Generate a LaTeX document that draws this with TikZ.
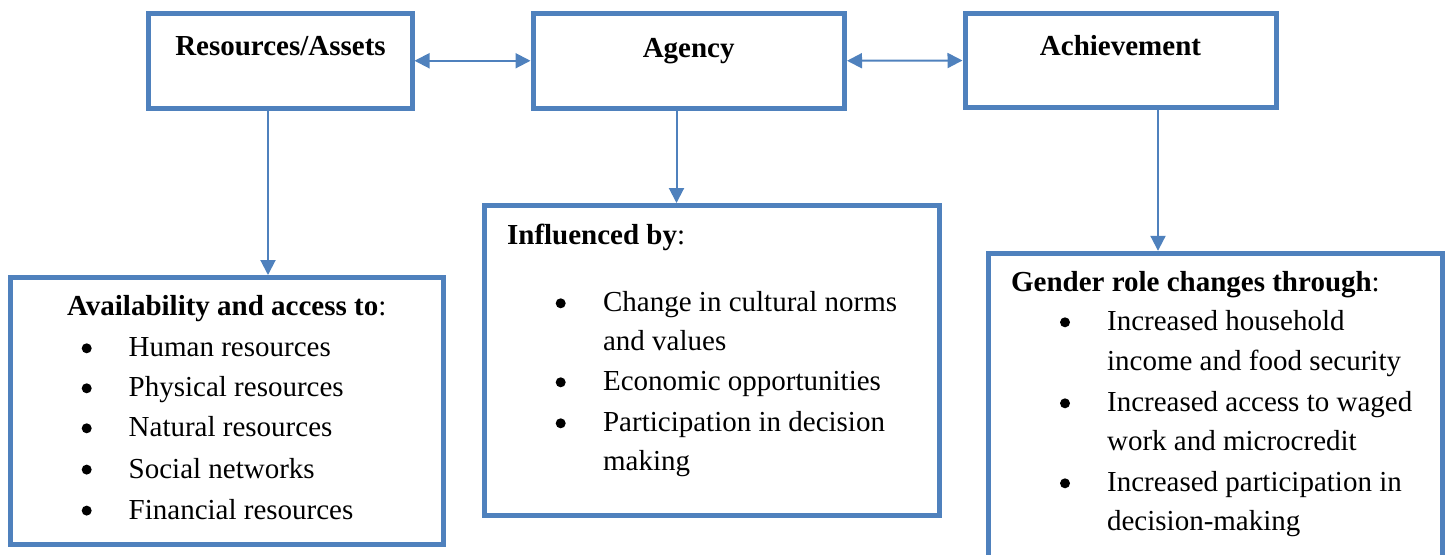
\documentclass[tikz,border=0pt]{standalone}
\usepackage{fontspec}
\setmainfont{Liberation Serif}
\usetikzlibrary{arrows.meta}

\definecolor{boxblue}{RGB}{79,129,189}

\tikzset{
	box/.style={draw=boxblue, line width=2.5pt, inner sep=0pt},
	link/.style={draw=boxblue, line width=1pt},
	head/.style={font=\fontsize{14.5}{19.4}\selectfont\bfseries, anchor=base, inner sep=0pt},
	entry/.style={anchor=base west, inner sep=0pt},
	dot/.style={circle, fill=black, inner sep=0pt, minimum size=5pt, yshift=4.2pt},
}

\begin{document}
\begin{tikzpicture}[x=0.5pt, y=-0.5pt, >={Triangle[length=7.5pt,width=7.5pt]},
		font=\fontsize{14.5}{19.4}\selectfont]
		\useasboundingbox (0,0) rectangle (1452,554);

		% top row
		\node [box, minimum width=131.75pt, minimum height=47.25pt] (res) at (280.25, 60.75) {};
		\node [box, minimum width=155.75pt, minimum height=47.75pt] (agency) at (688.75, 60.75) {};
		\node [box, minimum width=155.5pt, minimum height=47pt] (achieve) at (1120.5, 60.5) {};

		\node [head] (res-t) at (280.5, 55) {Resources/Assets};
		\node [head] (agency-t) at (688.7, 57) {Agency};
		\node [head] (achieve-t) at (1120.5, 55) {Achievement};

		% bottom row
		\node [box, minimum width=216.75pt, minimum height=133.5pt] (avail) at (226.75, 411) {};
		\node [box, minimum width=227.5pt, minimum height=155pt] (infl) at (712, 360.5) {};
		\node [box, minimum width=227.1pt, minimum height=163.35pt] (gender) at (1215.4, 416.65) {};

		% links between the boxes
		\draw [link, <->] (res.east) -- (agency.west);
		\draw [link, <->] (agency.east) -- (achieve.west);

		\coordinate (x1) at (268, 0);
		\coordinate (x2) at (676.5, 0);
		\coordinate (x3) at (1158, 0);
		\draw [link, ->] (res.south -| x1) -- (avail.north -| x1);
		\draw [link, ->] (agency.south -| x2) -- (infl.north -| x2);
		\draw [link, ->] (achieve.south -| x3) -- (gender.north -| x3);

		% resources list
		\node [head] (avail-t) at (226.75, 315) {Availability and access to\textmd{:}};
		\node [dot] (avail-b1) at (86.7, 356.7) {};
		\node [dot] (avail-b2) at (86.7, 396.7) {};
		\node [dot] (avail-b3) at (86.7, 436.7) {};
		\node [dot] (avail-b4) at (86.7, 478) {};
		\node [dot] (avail-b5) at (86.7, 519) {};
		\node [entry] (avail-1) at (128.3, 356.7) {Human resources};
		\node [entry] (avail-2) at (128.3, 396.7) {Physical resources};
		\node [entry] (avail-3) at (128.3, 436.7) {Natural resources};
		\node [entry] (avail-4) at (128.3, 478) {Social networks};
		\node [entry] (avail-5) at (128.3, 519) {Financial resources};

		% agency list
		\node [head, anchor=base west] (infl-t) at (506.7, 244) {Influenced by\textmd{:}};
		\node [dot] (infl-b1) at (560.7, 311.7) {};
		\node [dot] (infl-b2) at (560.7, 390.7) {};
		\node [dot] (infl-b3) at (560.7, 431.7) {};
		\node [entry] (infl-1a) at (602.7, 311.7) {Change in cultural norms};
		\node [entry] (infl-1b) at (602.7, 350) {and values};
		\node [entry] (infl-2) at (602.7, 390.7) {Economic opportunities};
		\node [entry] (infl-3a) at (602.7, 431.7) {Participation in decision};
		\node [entry] (infl-3b) at (602.7, 470) {making};

		% achievement list
		\node [head, anchor=base west] (gender-t) at (1010.7, 291.7) {Gender role changes through\textmd{:}};
		\node [dot] (gender-b1) at (1065, 330.7) {};
		\node [dot] (gender-b2) at (1065, 411.7) {};
		\node [dot] (gender-b3) at (1065, 491.7) {};
		\node [entry] (gender-1a) at (1106.7, 330.7) {Increased household};
		\node [entry] (gender-1b) at (1106.7, 370) {income and food security};
		\node [entry] (gender-2a) at (1106.7, 411.7) {Increased access to waged};
		\node [entry] (gender-2b) at (1106.7, 450) {work and microcredit};
		\node [entry] (gender-3a) at (1106.7, 491.7) {Increased participation in};
		\node [entry] (gender-3b) at (1106.7, 530) {decision-making};
\end{tikzpicture}
\end{document}
